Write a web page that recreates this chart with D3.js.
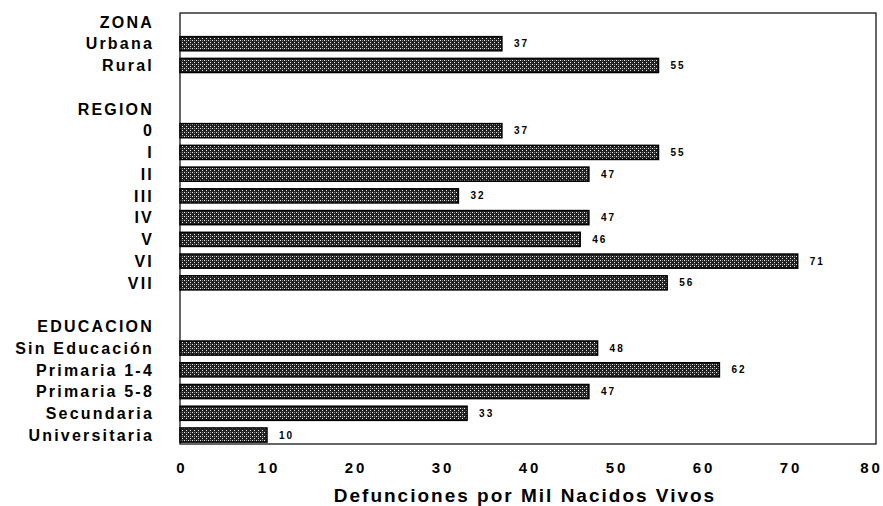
<!DOCTYPE html>
<html lang="es">
<head>
<meta charset="utf-8">
<title>Defunciones por mil nacidos vivos</title>
<script src="https://d3js.org/d3.v7.min.js"></script>
<style>
  body { margin: 0; background: #fff; }
  text { font-family: "Liberation Sans", Arial, sans-serif; font-weight: bold; fill: #000; }
  .cat { font-size: 16px; letter-spacing: 2.2px; }
  .val { font-size: 10px; letter-spacing: 2px; }
  .tick text { font-size: 15px; letter-spacing: 3px; }
  .title { font-size: 19px; letter-spacing: 2px; }
</style>
</head>
<body>
<div id="chart"></div>
<script>
// rows top to bottom; null value = group header or spacer
var labels = ["ZONA", "Urbana", "Rural", "",
              "REGION", "0", "I", "II", "III", "IV", "V", "VI", "VII", "",
              "EDUCACION", "Sin Educación", "Primaria 1-4", "Primaria 5-8", "Secundaria", "Universitaria"];
var values = [null, 37, 55, null,
              null, 37, 55, 47, 32, 47, 46, 71, 56, null,
              null, 48, 62, 47, 33, 10];
var xTicks = [0, 10, 20, 30, 40, 50, 60, 70, 80];

var w = 883, h = 506;
var svg = d3.select("#chart").append("svg").attr("width", w).attr("height", h);

// stippled fill like the printed original
var defs = svg.append("defs");
var pat = defs.append("pattern")
    .attr("id", "stipple").attr("patternUnits", "userSpaceOnUse")
    .attr("width", 4).attr("height", 4);
pat.append("rect").attr("width", 4).attr("height", 4).attr("fill", "#222");
pat.append("rect").attr("x", 0).attr("y", 0).attr("width", 1).attr("height", 1).attr("fill", "#e8e8e8");
pat.append("rect").attr("x", 2).attr("y", 2).attr("width", 1).attr("height", 1).attr("fill", "#e8e8e8");
pat.append("rect").attr("x", 2).attr("y", 0).attr("width", 1).attr("height", 1).attr("fill", "#888");

var rows = labels.map(function(d, i) { return { i: i, label: d, value: values[i] } });

var x = d3.scaleLinear().domain([0, 80]).range([180, 876]);
var y = d3.scaleBand().domain(d3.range(labels.length)).range([11, 446]).paddingInner(0.35).paddingOuter(0.18);

// frame
svg.append("rect")
    .attr("x", 180).attr("y", 13).attr("width", 696).attr("height", 431)
    .attr("fill", "none").attr("stroke", "#000").attr("stroke-width", 1.2);

// bars
var bars = rows.filter(function(d) { return d.value !== null });
svg.selectAll(".bar")
    .data(bars)
    .enter()
    .append("rect")
        .attr("class", "bar")
        .attr("x", x(0))
        .attr("y", function(d) { return y(d.i) })
        .attr("width", function(d) { return x(d.value) - x(0) })
        .attr("height", y.bandwidth())
        .attr("fill", "url(#stipple)")
        .attr("stroke", "#000")
        .attr("stroke-width", 1.5);

svg.selectAll(".val")
    .data(bars)
    .enter()
    .append("text")
        .attr("class", "val")
        .attr("x", function(d) { return x(d.value) + 12 })
        .attr("y", function(d) { return y(d.i) + y.bandwidth() / 2 })
        .attr("dy", "0.35em")
        .text(function(d) { return d.value });

// category labels
svg.selectAll(".cat")
    .data(rows)
    .enter()
    .append("text")
        .attr("class", "cat")
        .attr("x", 154)
        .attr("y", function(d) { return y(d.i) + y.bandwidth() / 2 })
        .attr("dy", "0.36em")
        .attr("text-anchor", "end")
        .text(function(d) { return d.label });

// x axis (labels only)
var xAxis = d3.axisBottom(x).tickValues(xTicks).tickSize(0);
var ax = svg.append("g").attr("transform", "translate(0,444)").call(xAxis);
ax.select(".domain").remove();
ax.selectAll("text")
    .attr("font-family", null).attr("font-size", null)
    .attr("y", 29).attr("dy", null)
    .attr("dx", function(d) { return d === 80 ? -5 : 1.5 });

svg.append("text")
    .attr("class", "title")
    .attr("x", 525).attr("y", 502)
    .attr("text-anchor", "middle")
    .text("Defunciones por Mil Nacidos Vivos");
</script>
</body>
</html>
